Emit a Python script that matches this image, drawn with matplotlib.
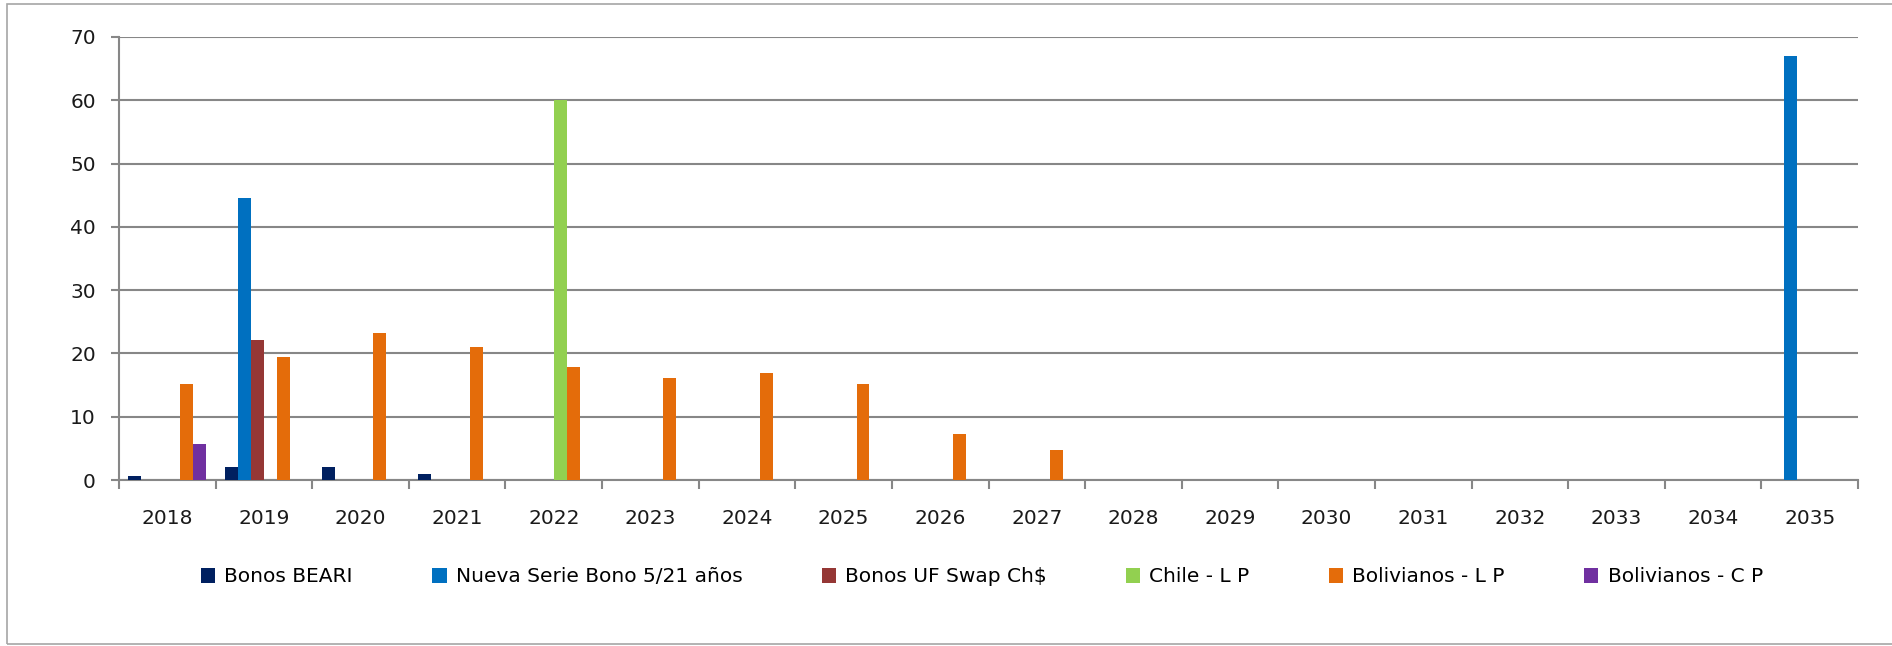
import matplotlib.pyplot as plt
import matplotlib.patches as mpatches
import numpy as np

years = [str(y) for y in range(2018, 2036)]

bonos_beari = [0.7, 2.0, 2.0, 1.0, 0, 0, 0, 0, 0, 0, 0, 0, 0, 0, 0, 0, 0, 0]
nueva_serie = [0, 44.6, 0, 0, 0, 0, 0, 0, 0, 0, 0, 0, 0, 0, 0, 0, 0, 67.0]
bonos_uf = [0, 22.2, 0, 0, 0, 0, 0, 0, 0, 0, 0, 0, 0, 0, 0, 0, 0, 0]
chile_lp = [0, 0, 0, 0, 60.0, 0, 0, 0, 0, 0, 0, 0, 0, 0, 0, 0, 0, 0]
bol_lp = [15.1, 19.4, 23.2, 21.0, 17.8, 16.1, 16.9, 15.1, 7.2, 4.7, 0, 0, 0, 0, 0, 0, 0, 0]
bol_cp = [5.7, 0, 0, 0, 0, 0, 0, 0, 0, 0, 0, 0, 0, 0, 0, 0, 0, 0]

series = [
    ("Bonos BEARI", bonos_beari, "#002060"),
    ("Nueva Serie Bono 5/21 años", nueva_serie, "#0070C0"),
    ("Bonos UF Swap Ch$", bonos_uf, "#953735"),
    ("Chile - L P", chile_lp, "#92D050"),
    ("Bolivianos - L P", bol_lp, "#E46C0A"),
    ("Bolivianos - C P", bol_cp, "#7030A0"),
]

plt.rcParams['font.family'] = ['DejaVu Sans']
grid_c = "#878787"
fs = 14.5

fig = plt.figure(figsize=(18.92, 6.46), dpi=100)
ax = fig.add_axes([119 / 1892, 1 - 480 / 646, (1858 - 119) / 1892, (480 - 37) / 646])

x = np.arange(len(years))
w = 0.134
for i, (name, vals, col) in enumerate(series):
    ax.bar(x + (i - 2.5) * w, vals, w, color=col, label=name, zorder=3)

ax.set_xlim(-0.5, len(years) - 0.5)
ax.set_ylim(0, 70)
ax.set_yticks(range(0, 71, 10))
ax.yaxis.grid(True, color=grid_c, lw=1.5, zorder=0)
ax.set_xticks(x)
ax.set_xticklabels(years)
ax.set_xticks(np.arange(-0.5, len(years)), minor=True)
ax.tick_params(axis='x', which='major', length=0, pad=21, labelsize=fs, labelcolor="#1a1a1a")
ax.tick_params(axis='x', which='minor', length=6.5, width=1.5, color=grid_c)
ax.tick_params(axis='y', length=5.8, width=1.5, color=grid_c, pad=10.8, labelsize=fs, labelcolor="#1a1a1a")

for s in ("top", "right"):
    ax.spines[s].set_visible(False)
for s in ("left", "bottom"):
    ax.spines[s].set_color(grid_c)
    ax.spines[s].set_linewidth(1.5)

fig.legend(loc="center", bbox_to_anchor=(982 / 1892, 1 - 577 / 646), ncol=6, frameon=False,
           fontsize=fs, handlelength=0.7, handleheight=0.75, handletextpad=0.45,
           columnspacing=3.95)

# outer chart frame
fig.patches.append(mpatches.Rectangle((7 / 1892, 2 / 646), 1.01, 640 / 646, transform=fig.transFigure,
                                      fill=False, edgecolor="#a6a6a6", lw=1.2))

fig.savefig("out.png", dpi=100)
